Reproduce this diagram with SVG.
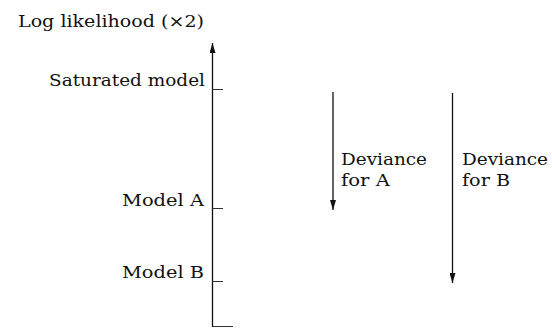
<svg xmlns="http://www.w3.org/2000/svg" width="552" height="328" viewBox="0 0 552 328">
<style>
text{font-family:"DejaVu Serif","Liberation Serif",serif;font-size:17px;fill:#111}
.ax{stroke:#111;stroke-width:1.3;fill:none}
.tk{stroke:#333;stroke-width:1;fill:none}
</style>
<defs>
<marker id="ah" viewBox="0 0 10 6" refX="10" refY="3" markerWidth="10" markerHeight="6" markerUnits="userSpaceOnUse" orient="auto-start-reverse">
<path d="M0,0 L10,3 L0,6 Z" fill="#111"/>
</marker>
</defs>
<g id="title"><text x="18" y="27" textLength="186" lengthAdjust="spacingAndGlyphs">Log likelihood (×2)</text></g>
<g id="connectors">
<line class="ax" x1="212.5" y1="43" x2="212.5" y2="327" marker-start="url(#ah)"/>
<line class="tk" x1="212.5" y1="89.5" x2="223" y2="89.5"/>
<line class="tk" x1="212.5" y1="208.5" x2="223" y2="208.5"/>
<line class="tk" x1="212.5" y1="281.5" x2="223" y2="281.5"/>
<line class="tk" x1="212.5" y1="326.5" x2="233" y2="326.5"/>
<line class="ax" x1="333" y1="92" x2="333" y2="210" marker-end="url(#ah)"/>
<line class="ax" x1="452.5" y1="93" x2="452.5" y2="283" marker-end="url(#ah)"/>
</g>
<g id="saturated"><text x="205" y="86" text-anchor="end" textLength="156" lengthAdjust="spacingAndGlyphs">Saturated model</text></g>
<g id="modelA"><text x="204" y="206" text-anchor="end" textLength="82" lengthAdjust="spacingAndGlyphs">Model A</text></g>
<g id="modelB"><text x="204" y="278" text-anchor="end" textLength="82" lengthAdjust="spacingAndGlyphs">Model B</text></g>
<g id="devA"><text x="341" y="165" textLength="86" lengthAdjust="spacingAndGlyphs">Deviance</text><text x="341" y="186" textLength="49" lengthAdjust="spacingAndGlyphs">for A</text></g>
<g id="devB"><text x="462" y="165" textLength="86" lengthAdjust="spacingAndGlyphs">Deviance</text><text x="462" y="186" textLength="48" lengthAdjust="spacingAndGlyphs">for B</text></g>
</svg>
